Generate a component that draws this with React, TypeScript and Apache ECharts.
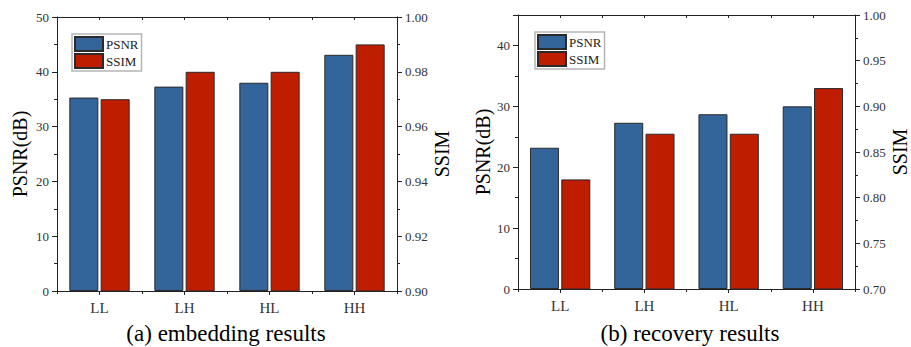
import React, { useEffect, useRef } from "react";
import * as echarts from "echarts";

const categories = ["LL", "LH", "HL", "HH"];
const seriesNames = ["PSNR", "SSIM"];

// (a) embedding results
const embedPSNR = [35.3, 37.3, 38.0, 43.1];
const embedSSIM = [0.97, 0.98, 0.98, 0.99];
// (b) recovery results
const recovPSNR = [23.2, 27.3, 28.7, 30.0];
const recovSSIM = [0.82, 0.87, 0.87, 0.92];

// axis ranges [min, max, interval]
const embedPSNRAxis = [0, 50, 10];
const embedSSIMAxis = [0.9, 1.0, 0.02];
const recovPSNRAxis = [0, 45, 10];
const recovSSIMAxis = [0.7, 1.0, 0.05];

const subtitles = ["(a) embedding results", "(b) recovery results"];

const FONT = "'Liberation Serif', 'Times New Roman', serif";
const BLUE = "#33649A";
const RED = "#BF1D00";
const AXIS = "#222";
const LABEL = "#333";

export default function App() {
  const ref = useRef<HTMLDivElement>(null);

  useEffect(() => {
    if (!ref.current) return;
    const chart = echarts.init(ref.current, null, { renderer: "svg" });

    const grids = [
      { left: 57, right: 514, top: 17, bottom: 56 },
      { left: 518, right: 54, top: 15, bottom: 58 },
    ];

    const xAxes: any[] = [];
    grids.forEach((_, gi) => {
      xAxes.push({
        type: "category",
        gridIndex: gi,
        data: categories,
        position: "bottom",
        axisLine: { show: true, lineStyle: { color: AXIS, width: 1 } },
        axisTick: { show: true, alignWithLabel: true, length: 4, lineStyle: { color: AXIS } },
        axisLabel: { fontFamily: FONT, fontSize: 15, color: LABEL, margin: 9 },
        splitLine: { show: false },
      });
      xAxes.push({
        type: "category",
        gridIndex: gi,
        data: categories,
        position: "bottom",
        axisLine: { show: false },
        axisTick: { show: true, alignWithLabel: false, length: 3, lineStyle: { color: AXIS } },
        axisLabel: { show: false },
        splitLine: { show: false },
      });
      xAxes.push({
        type: "category",
        gridIndex: gi,
        data: categories,
        position: "top",
        axisLine: { show: true, lineStyle: { color: AXIS, width: 1 } },
        axisTick: { show: true, inside: true, alignWithLabel: true, length: 3, lineStyle: { color: AXIS } },
        axisLabel: { show: false },
        splitLine: { show: false },
      });
      xAxes.push({
        type: "category",
        gridIndex: gi,
        data: categories,
        position: "top",
        axisLine: { show: false },
        axisTick: { show: true, inside: true, alignWithLabel: false, length: 3, lineStyle: { color: AXIS } },
        axisLabel: { show: false },
        splitLine: { show: false },
      });
    });

    const yAxis = (
      gi: number,
      pos: "left" | "right",
      range: number[],
      name: string,
      nameGap: number,
      decimals: number
    ) => ({
      type: "value",
      gridIndex: gi,
      position: pos,
      min: range[0],
      max: range[1],
      interval: range[2],
      name,
      nameLocation: "middle",
      nameRotate: 90,
      nameGap,
      nameTextStyle: { fontFamily: FONT, fontSize: 20, color: "#000" },
      axisLine: { show: true, lineStyle: { color: AXIS, width: 1 } },
      axisTick: { show: true, length: 5, lineStyle: { color: AXIS } },
      minorTick: { show: true, splitNumber: 2, length: 3, lineStyle: { color: AXIS } },
      splitLine: { show: false },
      minorSplitLine: { show: false },
      axisLabel: {
        fontFamily: FONT,
        fontSize: 13,
        color: LABEL,
        margin: 8,
        showMaxLabel: range[1] % range[2] === 0 || decimals > 0,
        formatter: (v: number) => v.toFixed(decimals),
      },
    });

    const yAxes = [
      yAxis(0, "left", embedPSNRAxis, "PSNR(dB)", 27, 0),
      yAxis(0, "right", embedSSIMAxis, "SSIM", 33, 2),
      yAxis(1, "left", recovPSNRAxis, "PSNR(dB)", 23, 0),
      yAxis(1, "right", recovSSIMAxis, "SSIM", 35, 2),
    ];

    const bar = (name: string, data: number[], xi: number, yi: number, color: string) => ({
      type: "bar",
      name,
      data,
      xAxisIndex: xi,
      yAxisIndex: yi,
      barWidth: 29,
      barGap: "8%",
      itemStyle: { color, borderColor: "#2a2a2a", borderWidth: 1 },
    });

    const series = [
      bar(seriesNames[0], embedPSNR, 0, 0, BLUE),
      bar(seriesNames[1], embedSSIM, 0, 1, RED),
      bar(seriesNames[0], recovPSNR, 4, 2, BLUE),
      bar(seriesNames[1], recovSSIM, 4, 3, RED),
    ];

    const legendBase = {
      orient: "vertical",
      data: seriesNames,
      icon: "rect",
      itemWidth: 28,
      itemHeight: 14,
      itemGap: 1,
      padding: [2, 3, 2, 2],
      borderColor: "#b5b5b5",
      borderWidth: 1.5,
      backgroundColor: "#fff",
      textStyle: { fontFamily: FONT, fontSize: 13, color: "#222", padding: [0, 0, 0, -2] },
      selectedMode: false,
    };

    chart.setOption({
      animation: false,
      backgroundColor: "#fff",
      grid: grids,
      xAxis: xAxes,
      yAxis: yAxes,
      series,
      legend: [
        { ...legendBase, left: 72, top: 34 },
        { ...legendBase, left: 535, top: 32 },
      ],
      graphic: [
        {
          type: "text",
          x: 226,
          y: 333,
          style: {
            text: subtitles[0],
            font: `23px ${FONT}`,
            fill: "#000",
            textAlign: "center",
            textVerticalAlign: "middle",
          },
        },
        {
          type: "text",
          x: 690,
          y: 333,
          style: {
            text: subtitles[1],
            font: `23px ${FONT}`,
            fill: "#000",
            textAlign: "center",
            textVerticalAlign: "middle",
          },
        },
      ],
    });

    return () => chart.dispose();
  }, []);

  return (
    <div
      ref={ref}
      style={{ position: "absolute", left: 0, top: 0, width: 911, height: 347, background: "#fff" }}
    />
  );
}
